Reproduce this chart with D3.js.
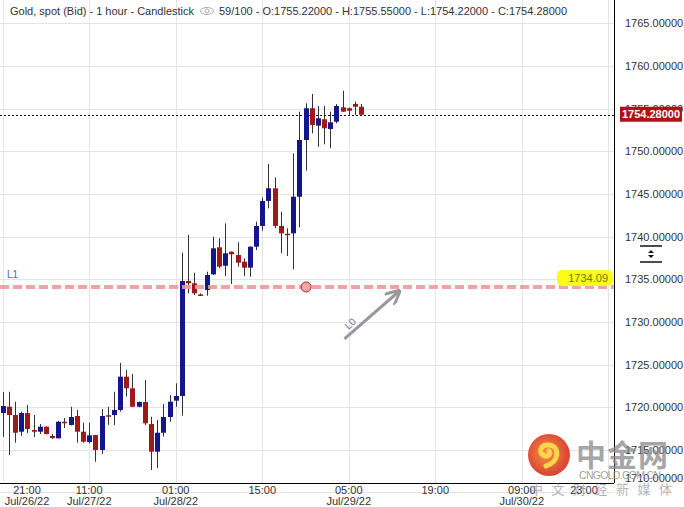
<!DOCTYPE html>
<html>
<head>
<meta charset="utf-8">
<script src="https://cdn.jsdelivr.net/npm/d3@7"></script>
<style>
  body { margin: 0; background: #fff; }
  svg { display: block; font-family: "Liberation Sans", Arial, sans-serif; }
</style>
</head>
<body>
<div id="chart"></div>
<script>
// hourly candles, Jul/26/22 21:00 onwards
const opens  = [1719.31,1720.05,1719.08,1717.12,1719.31,1717.32,1717.12,1717.71,1716.62,1716.35,
                1718.29,1717.91,1718.96,1717.12,1715.91,1716.73,1714.98,1719.05,1719.08,1719.67,
                1723.57,1722.21,1720.05,1720.60,1718.02,1714.78,1717.00,1718.84,1720.76,1721.31,
                1734.79,1734.52,1733.21,1733.73,1735.57,1738.74,1736.58,1738.22,1737.84,1737.05,
                1736.35,1738.81,1741.24,1744.17,1745.66,1741.24,1740.33,1740.38,1744.67,1751.32,
                1755.04,1753.00,1753.75,1752.61,1753.46,1755.15,1755.04,1755.54,1755.22];
const highs  = [1721.78,1721.81,1720.64,1719.47,1720.25,1719.08,1718.02,1717.75,1716.85,1718.38,
                1718.73,1720.05,1719.67,1718.18,1718.18,1716.75,1719.78,1720.05,1721.81,1725.18,
                1724.35,1723.89,1720.65,1723.18,1718.88,1718.49,1720.37,1721.42,1722.80,1738.11,
                1740.18,1735.76,1733.35,1735.88,1739.98,1739.79,1741.55,1738.25,1739.33,1737.45,
                1738.85,1741.74,1744.60,1748.51,1746.95,1742.91,1740.97,1749.76,1754.64,1755.62,
                1756.71,1755.30,1755.30,1754.64,1755.54,1757.10,1755.15,1755.81,1755.55];
const lows   = [1716.50,1714.39,1715.83,1716.62,1716.97,1716.50,1716.85,1716.80,1716.27,1716.32,
                1717.56,1717.85,1715.83,1715.83,1715.76,1713.60,1714.51,1717.91,1717.91,1719.47,
                1721.23,1720.00,1719.98,1717.91,1712.63,1712.87,1716.54,1718.29,1720.05,1719.00,
                1733.35,1733.15,1733.03,1733.07,1735.50,1736.28,1735.38,1734.44,1736.47,1735.38,
                1735.29,1738.42,1740.69,1743.31,1740.97,1738.04,1737.72,1736.16,1741.08,1747.72,
                1752.10,1750.53,1750.81,1750.35,1753.28,1754.60,1754.25,1754.25,1754.22];
const closes = [1720.13,1719.08,1717.00,1719.31,1717.44,1717.12,1717.71,1716.85,1716.38,1718.29,
                1718.11,1718.84,1717.12,1715.95,1716.70,1714.98,1718.96,1718.90,1719.67,1723.57,
                1722.21,1720.05,1720.60,1718.11,1714.78,1717.00,1718.84,1720.64,1721.31,1734.79,
                1734.52,1733.35,1733.09,1735.49,1738.62,1736.47,1738.04,1737.92,1736.93,1736.35,
                1738.81,1741.24,1744.17,1745.66,1741.24,1740.38,1740.21,1744.67,1751.32,1755.04,
                1753.08,1753.86,1752.69,1753.39,1755.30,1754.64,1754.75,1755.22,1754.28];

const yTicks    = [1710, 1715, 1720, 1725, 1730, 1735, 1740, 1745, 1750, 1755, 1760, 1765];
const xTickIdx  = [0, 14, 28, 42, 56, 70, 84, 98];
const xTickTime = ["21:00", "11:00", "01:00", "15:00", "05:00", "19:00", "09:00", "23:00"];
const xTickDate = ["Jul/26/22", "Jul/27/22", "Jul/28/22", "", "Jul/29/22", "", "Jul/30/22", ""];

const lastPrice = 1754.28;
const l1Price = 1734.09;
const l1Marker = 49.1;                       // bar index of the circle on L1
const l0Points = [[55.3, 1728.0], [64.0, 1733.5]];
const header = "Gold, spot (Bid) - 1 hour - Candlestick";
const header2 = "59/100 - O:1755.22000 - H:1755.55000 - L:1754.22000 - C:1754.28000";

const W = 684, H = 507;
const plotR = 614, plotB = 483;

const svg = d3.select("#chart").append("svg")
  .attr("width", W).attr("height", H);

const x = d3.scaleLinear().domain([0, 98]).range([2.7, 608.3]);
const y = d3.scaleLinear().domain([1710, 1765]).range([492.45, 23.3]);

// grid
svg.append("g").selectAll("line").data(yTicks).enter().append("line")
  .attr("x1", 0).attr("x2", plotR)
  .attr("y1", d => Math.round(y(d)) + 0.5).attr("y2", d => Math.round(y(d)) + 0.5)
  .attr("stroke", "#e4e4e4");
svg.append("g").selectAll("line").data(xTickIdx).enter().append("line")
  .attr("y1", 0).attr("y2", plotB)
  .attr("x1", d => Math.round(x(d)) + 0.5).attr("x2", d => Math.round(x(d)) + 0.5)
  .attr("stroke", "#e4e4e4");

// last price dotted line
svg.append("line")
  .attr("x1", 0).attr("x2", plotR)
  .attr("y1", Math.round(y(lastPrice)) + 0.5).attr("y2", Math.round(y(lastPrice)) + 0.5)
  .attr("stroke", "#111").attr("stroke-dasharray", "2,2");

// candles
const idx = d3.range(opens.length);
const bull = "#16168c", bear = "#9e1a1a";
const candles = svg.append("g").selectAll("g").data(idx).enter().append("g");
candles.append("line")
  .attr("x1", i => Math.round(x(i)) + 0.5).attr("x2", i => Math.round(x(i)) + 0.5)
  .attr("y1", i => y(highs[i])).attr("y2", i => y(lows[i]))
  .attr("stroke", "#333").attr("stroke-width", 1);
candles.append("rect")
  .attr("x", i => Math.round(x(i)) - 2)
  .attr("width", 5)
  .attr("y", i => y(Math.max(opens[i], closes[i])))
  .attr("height", i => Math.max(1.5, Math.abs(y(opens[i]) - y(closes[i]))))
  .attr("fill", i => closes[i] >= opens[i] ? bull : bear);

// L1 line
svg.append("line")
  .attr("x1", 0).attr("x2", plotR)
  .attr("y1", y(l1Price)).attr("y2", y(l1Price))
  .attr("stroke", "#ef9a9a").attr("stroke-width", 4).attr("stroke-dasharray", "9,4")
  .attr("opacity", 0.9);
svg.append("text").attr("x", 7).attr("y", y(l1Price) - 9)
  .attr("font-size", 10).attr("fill", "#5566a0").text("L1");
svg.append("circle")
  .attr("cx", x(l1Marker)).attr("cy", y(l1Price)).attr("r", 5)
  .attr("fill", "#f2a6a6").attr("stroke", "#9b3030").attr("stroke-width", 1);

// yellow L1 price tag
const tagW = 56, tagH = 16;
svg.append("rect")
  .attr("x", plotR - tagW - 1).attr("y", y(l1Price) - tagH - 1)
  .attr("width", tagW).attr("height", tagH).attr("rx", 5)
  .attr("fill", "#fbfb1a");
svg.append("text")
  .attr("x", plotR - 6).attr("y", y(l1Price) - 5)
  .attr("text-anchor", "end").attr("font-size", 11).attr("fill", "#6f7a10")
  .text(l1Price.toFixed(2));

// L0 arrow
const defs = svg.append("defs");
defs.append("marker").attr("id", "arr").attr("viewBox", "0 0 10 10")
  .attr("refX", 8).attr("refY", 5).attr("markerWidth", 5).attr("markerHeight", 5)
  .attr("orient", "auto")
  .append("path").attr("d", "M0,0 L10,5 L0,10").attr("fill", "none")
  .attr("stroke", "#999").attr("stroke-width", 2);
svg.append("line")
  .attr("x1", x(l0Points[0][0])).attr("y1", y(l0Points[0][1]))
  .attr("x2", x(l0Points[1][0])).attr("y2", y(l0Points[1][1]))
  .attr("stroke", "#999").attr("stroke-width", 3)
  .attr("marker-end", "url(#arr)");
svg.append("text")
  .attr("transform", `translate(${x(l0Points[0][0]) + 4},${y(l0Points[0][1]) - 9}) rotate(-42)`)
  .attr("font-size", 10).attr("fill", "#6677aa").text("L0");

// axes frame
svg.append("line").attr("x1", plotR + 0.5).attr("x2", plotR + 0.5).attr("y1", 0).attr("y2", plotB)
  .attr("stroke", "#000");
svg.append("line").attr("x1", 0).attr("x2", plotR).attr("y1", plotB + 0.5).attr("y2", plotB + 0.5)
  .attr("stroke", "#000");

// y labels
svg.append("g").selectAll("text").data(yTicks).enter().append("text")
  .attr("x", 625).attr("y", d => Math.min(y(d), plotB - 5) + 4)
  .attr("font-size", 11).attr("fill", "#333")
  .text(d => d.toFixed(5));

// last price tag
svg.append("rect").attr("x", 620).attr("y", y(lastPrice) - 8)
  .attr("width", 62).attr("height", 15).attr("fill", "#b01212");
svg.append("text").attr("x", 651).attr("y", y(lastPrice) + 3.5)
  .attr("text-anchor", "middle").attr("font-size", 11).attr("font-weight", "bold")
  .attr("fill", "#fff").text(lastPrice.toFixed(5));

// scale icon on y axis
const ic = svg.append("g").attr("transform", "translate(651,254)");
ic.append("line").attr("x1", -11).attr("x2", 11).attr("y1", -8).attr("y2", -8).attr("stroke", "#111").attr("stroke-width", 1.5);
ic.append("line").attr("x1", -11).attr("x2", 11).attr("y1", 8).attr("y2", 8).attr("stroke", "#111").attr("stroke-width", 1.5);
ic.append("path").attr("d", "M-3,-1 L0,-4 L3,-1 Z M-3,1 L0,4 L3,1 Z").attr("fill", "#111");

// x labels
const xl = svg.append("g").selectAll("g").data(xTickIdx).enter().append("g")
  .attr("transform", d => `translate(${Math.max(27, Math.min(x(d), 584))},0)`);
xl.append("text").attr("y", 494).attr("text-anchor", "middle")
  .attr("font-size", 11).attr("fill", "#333").text((d, i) => xTickTime[i]);
xl.append("text").attr("y", 505).attr("text-anchor", "middle")
  .attr("font-size", 11).attr("fill", "#333").text((d, i) => xTickDate[i]);

// header
svg.append("text").attr("x", 10).attr("y", 15).attr("font-size", 11).attr("fill", "#333").text(header);
const eye = svg.append("g").attr("transform", "translate(207,11)");
eye.append("ellipse").attr("rx", 6.5).attr("ry", 3.5).attr("fill", "none").attr("stroke", "#aaa");
eye.append("circle").attr("r", 2).attr("fill", "none").attr("stroke", "#aaa");
svg.append("text").attr("x", 219).attr("y", 15).attr("font-size", 11).attr("fill", "#333").text(header2);

// watermark logo
const grad = defs.append("radialGradient").attr("id", "lg").attr("cx", "45%").attr("cy", "45%");
grad.append("stop").attr("offset", "0%").attr("stop-color", "#f58a2e");
grad.append("stop").attr("offset", "100%").attr("stop-color", "#d9341f");
const logo = svg.append("g").attr("opacity", 0.9);
logo.append("circle").attr("cx", 549).attr("cy", 455).attr("r", 21).attr("fill", "url(#lg)");
logo.append("path")
  .attr("d", "M546,466 C560,462 560,446 549,445 C541,444 538,452 543,455 C547,458 552,454 549,451")
  .attr("fill", "none").attr("stroke", "#fcd13a").attr("stroke-width", 5).attr("stroke-linecap", "round");
logo.append("text").attr("x", 576).attr("y", 466).attr("font-size", 30).attr("font-weight", "bold")
  .attr("font-family", "Noto Sans CJK SC").attr("fill", "#8c8c8c").attr("opacity", 0.85)
  .attr("letter-spacing", 1).text("中金网");
logo.append("text").attr("x", 579).attr("y", 479).attr("font-size", 10.5)
  .attr("fill", "#999").attr("textLength", 82).text("CNGOLD.COM.CN");
logo.append("text").attr("x", 530).attr("y", 494).attr("font-size", 13)
  .attr("font-family", "Noto Sans CJK SC").attr("fill", "#999").attr("opacity", 0.8)
  .attr("letter-spacing", 8.5).text("中文财经新媒体");
</script>
</body>
</html>
